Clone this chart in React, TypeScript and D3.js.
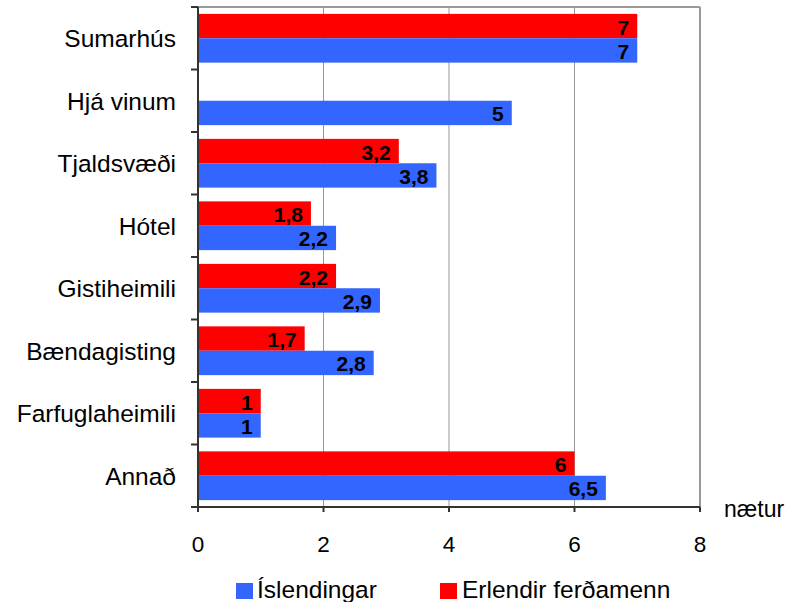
import React from 'react'
import * as d3 from 'd3'

const categories = ['Sumarhús', 'Hjá vinum', 'Tjaldsvæði', 'Hótel', 'Gistiheimili', 'Bændagisting', 'Farfuglaheimili', 'Annað']
const erlendir: (number | null)[] = [7, null, 3.2, 1.8, 2.2, 1.7, 1, 6]
const islendingar: (number | null)[] = [7, 5, 3.8, 2.2, 2.9, 2.8, 1, 6.5]
const xTicks = [0, 2, 4, 6, 8]
const seriesNames = ['Íslendingar', 'Erlendir ferðamenn']

const width = 789
const height = 602
const margin = { top: 7, right: 89, bottom: 95, left: 198 }
const red = '#ff0000'
const blue = '#3366ff'
const font = 'Arial, "Liberation Sans", sans-serif'

const App = () => {
  const x = d3.scaleLinear([0, 8], [margin.left, width - margin.right])
  const y = d3.scaleBand(categories, [margin.top, height - margin.bottom]).paddingInner(0).paddingOuter(0)
  const band = y.bandwidth()
  const barH = band * 0.39
  const gap = (band - 2 * barH) / 2

  const fmt = (v: number) => String(v).replace('.', ',')

  const bars = (vals: (number | null)[], color: string, offset: number, key: string) =>
    categories.map((c, i) => {
      const v = vals[i]
      if (v == null) return null
      const y0 = (y(c) as number) + gap + offset
      return (
        <g key={key + i}>
          <rect x={x(0)} y={y0} width={x(v) - x(0)} height={barH} fill={color} />
          <text x={x(v) - 8} y={y0 + barH / 2 + 1} dy="0.36em" textAnchor="end"
            fontWeight="bold" fontSize={21} fill="#000">{fmt(v)}</text>
        </g>
      )
    })

  const bottom = height - margin.bottom

  return (
    <svg width={width} height={height} style={{ position: 'absolute', left: 0, top: 0 }} fontFamily={font}>
      <rect width={width} height={height} fill="#fff" />
      {xTicks.slice(1).map(t => (
        <line key={'g' + t} x1={x(t)} x2={x(t)} y1={margin.top} y2={bottom} stroke="#999" strokeWidth={1} />
      ))}
      <line x1={margin.left} x2={x(8)} y1={margin.top} y2={margin.top} stroke="#999" strokeWidth={2} />
      <line x1={x(8)} x2={x(8)} y1={margin.top} y2={bottom} stroke="#999" strokeWidth={2} />
      {bars(erlendir, red, 0, 'e')}
      {bars(islendingar, blue, barH, 'i')}
      <line x1={margin.left} x2={margin.left} y1={margin.top} y2={bottom + 4} stroke="#333" strokeWidth={2} />
      <line x1={margin.left - 6} x2={x(8)} y1={bottom} y2={bottom} stroke="#333" strokeWidth={2} />
      {categories.concat(['']).map((c, i) => (
        <line key={'lt' + i} x1={margin.left - 7} x2={margin.left} y1={margin.top + i * band} y2={margin.top + i * band} stroke="#333" strokeWidth={2} />
      ))}
      {xTicks.map(t => (
        <g key={'t' + t}>
          <line x1={x(t)} x2={x(t)} y1={bottom} y2={bottom + 5} stroke="#333" strokeWidth={2} />
          <text x={x(t)} y={544} dy="0.36em" textAnchor="middle" fontSize={22.5} fill="#000">{t}</text>
        </g>
      ))}
      {categories.map(c => (
        <text key={c} x={176} y={(y(c) as number) + band / 2} dy="0.36em" textAnchor="end" fontSize={24.5} fill="#000">{c}</text>
      ))}
      <text x={724} y={517} fontSize={23} fill="#000">nætur</text>
      <rect x={236} y={583} width={17} height={16} fill={blue} />
      <text x={257} y={598} fontSize={24.5} fill="#000">{seriesNames[0]}</text>
      <rect x={440} y={583} width={17} height={16} fill={red} />
      <text x={462} y={598} fontSize={24.5} fill="#000">{seriesNames[1]}</text>
    </svg>
  )
}

export default App
